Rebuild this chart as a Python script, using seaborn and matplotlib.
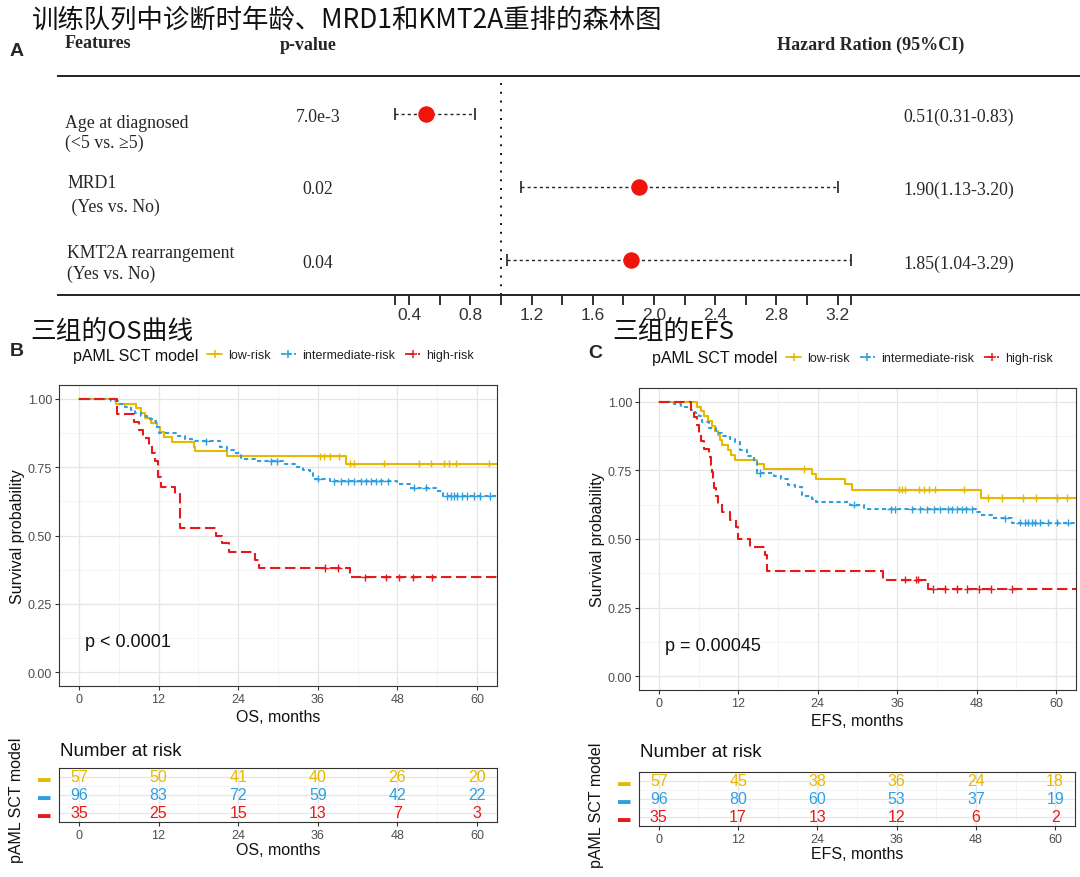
import numpy as np
import pandas as pd
import matplotlib
matplotlib.use("Agg")
import matplotlib.pyplot as plt
import seaborn as sns
from matplotlib.lines import Line2D

# ---------------- data ----------------
title_main = "训练队列中诊断时年龄、MRD1和KMT2A重排的森林图"
title_os = "三组的OS曲线"
title_efs = "三组的EFS"

groups = ["low-risk", "intermediate-risk", "high-risk"]
colors = ["#E7B800", "#2E9FDF", "#E41A1C"]

feat_line1 = ["Age at diagnosed", "MRD1", "KMT2A rearrangement"]
feat_line2 = ["(<5 vs. ≥5)", " (Yes vs. No)", "(Yes vs. No)"]
p_values = ["7.0e-3", "0.02", "0.04"]
hr = [0.51, 1.90, 1.85]
hr_lo = [0.31, 1.13, 1.04]
hr_hi = [0.83, 3.20, 3.29]
hr_text = ["0.51(0.31-0.83)", "1.90(1.13-3.20)", "1.85(1.04-3.29)"]
forest_labels = [0.4, 0.8, 1.2, 1.6, 2.0, 2.4, 2.8, 3.2]
forest_minor = [0.31, 0.6, 1.0, 1.4, 1.8, 2.2, 2.6, 3.0, 3.29]

# OS curves (step times / survival)
os_low_t = [0, 5.6, 8.6, 9.3, 10.0, 10.8, 11.7, 12.2, 12.8, 14.0, 17.3, 17.5, 22.3, 40.3, 63]
os_low_s = [1, .982, .965, .947, .930, .912, .895, .877, .860, .842, .825, .807, .789, .763, .763]
os_mid_t = [0, 4.9, 6.2, 7.0, 7.8, 8.5, 9.3, 10.3, 11.0, 11.6, 12.0, 15.0, 16.0, 17.0, 21.3, 22.3,
            23.3, 24.4, 26.5, 31.0, 32.7, 33.7, 34.8, 35.3, 37.9, 48.0, 49.9, 54.0, 54.8, 63]
os_mid_s = [1, .990, .979, .969, .958, .948, .938, .927, .917, .896, .875, .865, .854, .844, .823, .813,
            .802, .781, .771, .760, .750, .740, .729, .708, .698, .687, .675, .663, .645, .645]
os_high_t = [0, 5.8, 8.3, 9.0, 9.6, 10.5, 11.0, 11.4, 11.9, 12.3, 14.5, 15.3, 20.7, 21.5, 22.6, 26.5, 27.2, 40.8, 63]
os_high_s = [1, .943, .914, .886, .857, .829, .800, .771, .714, .679, .650, .529, .500, .471, .441, .412, .382, .347, .347]
os_low_c = [36.3, 36.9, 37.9, 39.2, 40.8, 41.5, 46.0, 51.2, 53.0, 55.0, 55.8, 56.8, 61.8]
os_mid_c = [19.2, 29.0, 29.8, 36.0, 38.5, 39.5, 40.5, 41.5, 42.5, 43.3, 44.0, 44.8, 45.5, 46.5,
            50.5, 52.3, 55.5, 56.0, 56.5, 57.0, 57.8, 58.5, 59.5, 60.5, 62.0]
os_high_c = [37.1, 39.0, 43.1, 46.2, 48.3, 50.4, 53.2]

# EFS curves
efs_low_t = [0, 5.7, 6.3, 6.8, 7.4, 8.1, 8.5, 8.9, 9.3, 9.6, 10.4, 10.9, 11.5, 14.8, 15.9, 23.2, 23.7, 28.1, 29.2, 48.7, 63]
efs_low_s = [1, .982, .965, .947, .930, .912, .895, .877, .860, .842, .825, .807, .789, .772, .754, .737, .719, .702, .680, .649, .649]
efs_mid_t = [0, 2.3, 3.4, 4.9, 5.5, 6.0, 6.5, 7.6, 8.6, 9.6, 10.7, 11.5, 12.2, 13.3, 14.3, 14.8, 17.4, 18.5,
             19.5, 20.6, 21.6, 23.2, 23.7, 28.9, 31.0, 47.9, 48.7, 50.3, 53.4, 63]
efs_mid_s = [1, .990, .979, .969, .958, .948, .927, .906, .885, .875, .865, .854, .823, .802, .781, .740, .729, .719,
             .698, .688, .656, .646, .635, .625, .608, .597, .587, .575, .560, .560]
efs_high_t = [0, 4.9, 5.3, 5.8, 6.1, 6.4, 6.8, 7.6, 7.8, 8.0, 8.2, 8.4, 8.6, 8.9, 9.6, 10.7, 11.7, 12.0, 13.8, 16.0, 16.4, 33.9, 40.6, 63]
efs_high_s = [1, .971, .943, .914, .886, .857, .829, .800, .771, .743, .714, .686, .657, .629, .600, .571, .543, .500, .471, .441, .384, .352, .318, .318]
efs_low_c = [21.9, 36.2, 36.7, 37.2, 39.3, 40.0, 40.8, 41.7, 46.1, 49.7, 51.8, 55.0, 57.0, 60.2, 61.7]
efs_mid_c = [15.3, 29.5, 35.0, 35.6, 38.2, 39.5, 40.5, 41.5, 42.5, 43.6, 44.2, 45.0, 45.8, 46.4, 47.3,
             52.3, 54.5, 55.3, 55.8, 56.3, 56.8, 57.5, 58.7, 60.2, 61.8]
efs_high_c = [37.2, 38.9, 39.2, 41.4, 43.2, 45.0, 46.6, 48.4, 50.2, 53.3]

risk_times = [0, 12, 24, 36, 48, 60]
os_risk_low = [57, 50, 41, 40, 26, 20]
os_risk_mid = [96, 83, 72, 59, 42, 22]
os_risk_high = [35, 25, 15, 13, 7, 3]
efs_risk_low = [57, 45, 38, 36, 24, 18]
efs_risk_mid = [96, 80, 60, 53, 37, 19]
efs_risk_high = [35, 17, 13, 12, 6, 2]

os_p = "p < 0.0001"
efs_p = "p = 0.00045"

# ---------------- layout helpers ----------------
sns.set_theme(style="white")
plt.rcParams["font.family"] = ["Liberation Sans", "DejaVu Sans"]
W, H = 1080, 878
fig = plt.figure(figsize=(10.8, 8.78), dpi=100)
fig.patch.set_facecolor("white")

def rect(x0, y0, x1, y1):
    return [x0 / W, 1 - y1 / H, (x1 - x0) / W, (y1 - y0) / H]

def fx(x):
    return x / W

def fy(y):
    return 1 - y / H

CJK = ["Noto Sans CJK SC", "DejaVu Sans"]
SERIF = ["Liberation Serif", "DejaVu Serif"]

# ---------------- forest plot ----------------
fig.text(fx(32), fy(20), title_main, family=CJK, fontsize=19, va="center", ha="left", color="#111")
fig.text(fx(10), fy(52), "A", fontsize=14, fontweight="bold", va="center")
fig.text(fx(65), fy(44), "Features", family=SERIF, fontsize=13, fontweight="bold", va="center")
fig.text(fx(280), fy(46), "p-value", family=SERIF, fontsize=13, fontweight="bold", va="center")
fig.text(fx(777), fy(45), "Hazard Ration (95%CI)", family=SERIF, fontsize=13, fontweight="bold", va="center")

axf = fig.add_axes(rect(58, 77, 1080, 296))
axf.set_facecolor("none")
axf.set_xlim(-1.895, 4.784)
axf.set_ylim(2.48, -0.52)
rows = np.arange(len(hr))
axf.axvline(1.0, color="#111", ls=(0, (1, 3.5)), lw=1.4, zorder=1)
axf.hlines(rows, hr_lo, hr_hi, colors="#222", linestyles=(0, (2.2, 2.2)), lw=1.0, zorder=2)
axf.plot(hr_lo, rows, ls="none", marker="|", ms=9, mew=1.2, color="#222")
axf.plot(hr_hi, rows, ls="none", marker="|", ms=9, mew=1.2, color="#222")
sns.scatterplot(x=hr, y=rows, color="#F0140C", edgecolor="#F0140C", s=120, ax=axf, zorder=4, legend=False)
for s in ["left", "right"]:
    axf.spines[s].set_visible(False)
for s in ["top", "bottom"]:
    axf.spines[s].set_visible(True)
    axf.spines[s].set_color("#222")
    axf.spines[s].set_linewidth(1.4)
axf.set_yticks([])
axf.set_xticks(forest_labels)
axf.set_xticklabels([f"{v:.1f}" for v in forest_labels])
axf.set_xticks(forest_minor, minor=True)
axf.tick_params(axis="x", which="both", direction="out", length=7, width=1.3, color="#222",
                labelsize=12.5, labelcolor="#333", pad=2, bottom=True)
axf.set_xlabel("")
axf.set_ylabel("")
axf.grid(False)

y1 = [123, 183, 254]
y2 = [143, 207, 274]
yp = [117, 190, 264]
for i in range(len(hr)):
    fig.text(fx(65 if i == 0 else 67), fy(y1[i]), feat_line1[i], family=SERIF, fontsize=12.8, va="center")
    fig.text(fx(65 if i == 0 else 67), fy(y2[i]), feat_line2[i], family=SERIF, fontsize=12.8, va="center")
    fig.text(fx(318), fy(yp[i]), p_values[i], family=SERIF, fontsize=12.8, va="center", ha="center")
    fig.text(fx(903), fy(yp[i]), hr_text[i], family=SERIF, fontsize=12.8, va="center", ha="left")

# ---------------- KM panels ----------------
dash_list = ["", (2.0, 1.6), (5.0, 2.2)]

def km_frame(curves):
    recs = []
    for g, (t, s) in zip(groups, curves):
        for ti, si in zip(t, s):
            recs.append((g, ti, si))
    return pd.DataFrame(recs, columns=["group", "time", "surv"])

def censor_frame(curves, cens):
    recs = []
    for g, (t, s), c in zip(groups, curves, cens):
        t = np.asarray(t)
        s = np.asarray(s)
        for ci in c:
            idx = np.searchsorted(t, ci, side="right") - 1
            recs.append((g, ci, s[idx]))
    return pd.DataFrame(recs, columns=["group", "time", "surv"])

def style_axes(ax):
    ax.set_facecolor("white")
    ax.set_xlim(-3, 63)
    ax.set_xticks(risk_times)
    ax.set_xticks([6, 18, 30, 42, 54], minor=True)
    ax.grid(True, which="major", color="#E6E6E6", lw=0.9)
    ax.grid(True, which="minor", color="#F0F0F0", lw=0.5)
    ax.set_axisbelow(True)
    for s in ax.spines.values():
        s.set_visible(True)
        s.set_color("#333333")
        s.set_linewidth(0.8)
    ax.tick_params(which="major", length=3, width=0.8, color="#333333", labelsize=9,
                   labelcolor="#4D4D4D", pad=2, bottom=True, left=True)
    ax.tick_params(which="minor", length=0)

def km_panel(ax, curves, cens, ptext, xlabel):
    df = km_frame(curves)
    sns.lineplot(data=df, x="time", y="surv", hue="group", style="group",
                 hue_order=groups, style_order=groups, palette=colors, dashes=dash_list,
                 drawstyle="steps-post", estimator=None, sort=False, legend=False,
                 linewidth=1.5, ax=ax)
    cdf = censor_frame(curves, cens)
    sns.scatterplot(data=cdf, x="time", y="surv", hue="group", hue_order=groups,
                    palette=colors, marker="+", s=30, linewidth=1.0, legend=False, ax=ax, zorder=3)
    style_axes(ax)
    ax.set_ylim(-0.05, 1.05)
    ax.set_yticks([0, 0.25, 0.5, 0.75, 1.0])
    ax.set_yticklabels(["0.00", "0.25", "0.50", "0.75", "1.00"])
    ax.set_yticks([0.125, 0.375, 0.625, 0.875], minor=True)
    ax.set_ylabel("Survival probability", fontsize=11.5, color="#111")
    ax.yaxis.set_label_coords(-0.078, 0.5)
    ax.set_xlabel(xlabel, fontsize=11.5, color="#111", labelpad=3)
    ax.text(0.9, 0.113, ptext, fontsize=13, ha="left", va="center", color="#111")

def risk_table(ax, counts, xlabel):
    style_axes(ax)
    ax.set_ylim(0.5, 3.5)
    ax.set_yticks([3, 2, 1])
    ax.set_yticks([1.5, 2.5], minor=True)
    ax.set_yticklabels(["▬"] * 3, fontsize=9)
    for lab, c in zip(ax.get_yticklabels(), colors):
        lab.set_color(c)
    ax.tick_params(axis="y", which="major", length=0, pad=6)
    for i, (c, vals) in enumerate(zip(colors, counts)):
        for t, v in zip(risk_times, vals):
            ax.text(t, 3 - i, str(v), color=c, ha="center", va="center", fontsize=11.5)
    ax.set_xlabel(xlabel, fontsize=11.5, color="#111", labelpad=1)
    ax.set_ylabel("")

def legend_row(x_title, x_leg, y):
    fig.text(fx(x_title), fy(y), "pAML SCT model", fontsize=11.5, va="center", ha="left", color="#111")
    handles = [Line2D([], [], color=c, ls="-" if d == "" else (0, d), lw=1.3, marker="+", ms=6, mew=1.1)
               for c, d in zip(colors, dash_list)]
    fig.legend(handles, groups, loc="center left", bbox_to_anchor=(fx(x_leg), fy(y)), ncol=3,
               frameon=False, fontsize=9, handlelength=1.2, handletextpad=0.5, columnspacing=0.8,
               borderpad=0, borderaxespad=0, labelcolor="#222")

# OS
fig.text(fx(30), fy(332), title_os, family=CJK, fontsize=18.5, va="center", ha="left", color="#111")
fig.text(fx(10), fy(352), "B", fontsize=14, fontweight="bold", va="center")
legend_row(73, 207, 356)
ax_os = fig.add_axes(rect(59, 386, 497, 687))
km_panel(ax_os, [(os_low_t, os_low_s), (os_mid_t, os_mid_s), (os_high_t, os_high_s)],
         [os_low_c, os_mid_c, os_high_c], os_p, "OS, months")
fig.text(fx(60), fy(752), "Number at risk", fontsize=13.5, va="center", ha="left", color="#111")
ax_ost = fig.add_axes(rect(59, 769, 497, 823))
risk_table(ax_ost, [os_risk_low, os_risk_mid, os_risk_high], "OS, months")
fig.text(fx(17), fy(800), "pAML SCT model", fontsize=11.5, rotation=90, va="center", ha="center", color="#111")

# EFS
fig.text(fx(612), fy(332), title_efs, family=CJK, fontsize=18.5, va="center", ha="left", color="#111")
fig.text(fx(588), fy(354), "C", fontsize=14, fontweight="bold", va="center")
legend_row(652, 786, 359)
ax_efs = fig.add_axes(rect(639, 389, 1076, 691))
km_panel(ax_efs, [(efs_low_t, efs_low_s), (efs_mid_t, efs_mid_s), (efs_high_t, efs_high_s)],
         [efs_low_c, efs_mid_c, efs_high_c], efs_p, "EFS, months")
fig.text(fx(640), fy(753), "Number at risk", fontsize=13.5, va="center", ha="left", color="#111")
ax_efst = fig.add_axes(rect(639, 773, 1075, 827))
risk_table(ax_efst, [efs_risk_low, efs_risk_mid, efs_risk_high], "EFS, months")
fig.text(fx(596), fy(805), "pAML SCT model", fontsize=11.5, rotation=90, va="center", ha="center", color="#111")

fig.savefig("out.png", dpi=100, facecolor="white")
